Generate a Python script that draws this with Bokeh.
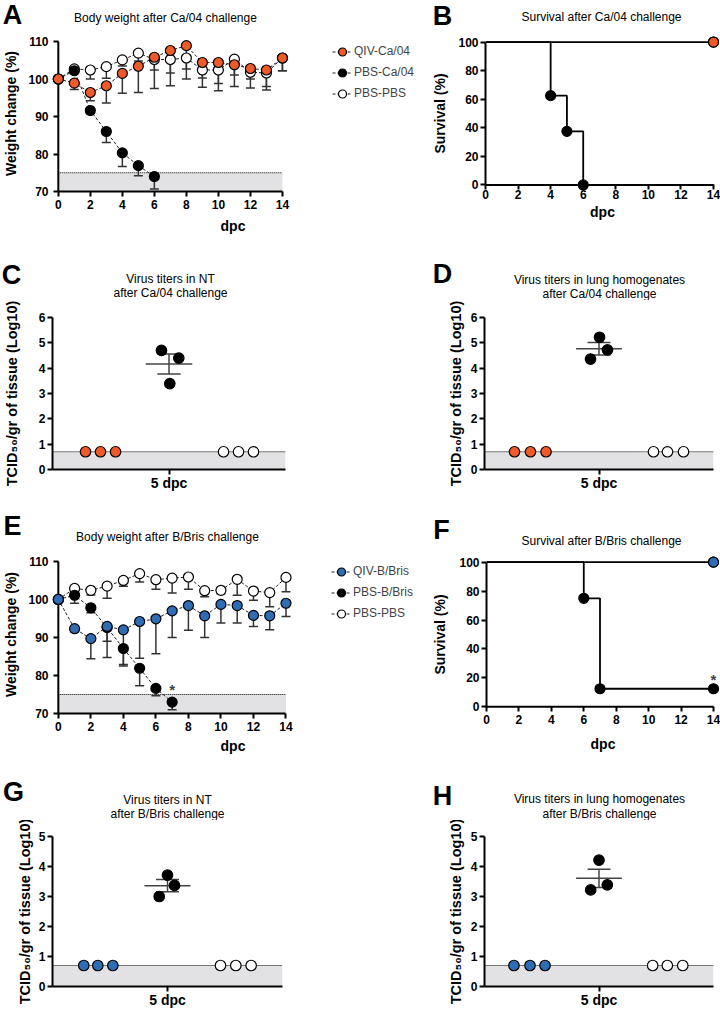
import math
import numpy as np
from bokeh.plotting import figure
from bokeh.models import Range1d, FixedTicker, Label, Legend, LegendItem
from bokeh.layouts import row, column
from bokeh.embed import file_html
from bokeh.resources import INLINE

FONT = "Liberation Sans"
ORANGE = "#EF5A28"
BLUE = "#2E6CB4"
WHITE = "white"
BLACK = "black"
SHADE = "#E2E2E5"
ERR = "#333333"

# ------------------------------------------------------------------ data
days = list(range(15))
day_ticks = list(range(0, 15, 2))
weight_ticks = [70, 80, 90, 100, 110]
weight_threshold = 75
surv_ticks = [0, 20, 40, 60, 80, 100]

# Body weight after Ca/04 challenge (%)
qiv_ca_weight = [100, 98.9, 96.4, 98.2, 101.5, 103.4, 105.8, 107.6, 108.9, 104.4, 104.4, 103.8, 102.8, 102.4, 105.6]
qiv_ca_weight_low = [100, 97.2, 94.2, 93.6, 96.2, 96.4, 97.5, 98.2, 100.0, 97.8, 96.9, 98.0, 97.6, 97.1, 102.2]
pbs_ca_days = [0, 1, 2, 3, 4, 5, 6]
pbs_ca_weight = [100, 102.2, 91.6, 86.0, 80.3, 76.9, 74.0]
pbs_ca_weight_low = [100, 101.6, 90.8, 83.1, 76.7, 74.2, 70.7]
pbs_pbs_a_weight = [100, 102.7, 102.4, 103.3, 105.1, 106.9, 105.2, 105.2, 105.6, 102.4, 102.4, 105.3, 101.8, 101.6, 105.6]
pbs_pbs_a_weight_low = [100, 101.8, 100.0, 100.2, 103.5, 104.8, 102.4, 101.6, 102.7, 100.3, 98.8, 101.1, 100.0, 98.0, 102.2]

# Body weight after B/Bris challenge (%)
qiv_b_weight = [100, 92.3, 89.7, 92.9, 92.0, 94.2, 94.9, 97.0, 98.4, 95.7, 98.7, 98.4, 95.8, 95.7, 99.0]
qiv_b_weight_low = [100, 91.5, 84.4, 84.7, 82.5, 84.5, 85.7, 90.0, 91.9, 90.0, 93.8, 93.8, 92.9, 92.0, 95.5]
pbs_b_days = [0, 1, 2, 3, 4, 5, 6, 7]
pbs_b_weight = [100, 101.1, 97.8, 92.6, 87.1, 81.9, 76.6, 73.0]
pbs_b_weight_low = [100, 99.0, 96.5, 89.0, 82.9, 77.3, 74.7, 71.0]
pbs_pbs_e_weight = [100, 102.9, 102.4, 103.5, 105.0, 106.8, 105.2, 105.6, 105.9, 102.3, 102.4, 105.3, 102.2, 101.8, 105.8]
pbs_pbs_e_weight_low = [100, 101.8, 101.2, 100.3, 103.5, 104.6, 102.7, 101.7, 102.7, 100.7, 101.5, 101.1, 99.8, 98.1, 102.0]
pbs_b_star = (7, 76.3)

# Survival (%)
qiv_surv_x = [0, 14]
qiv_surv_y = [100, 100]
pbs_ca_surv_x = [0, 4, 5, 6, 14]
pbs_ca_surv_y = [100, 62.5, 37.5, 0, 0]
pbs_ca_event_x = [4, 5, 6]
pbs_ca_event_y = [62.5, 37.5, 0]
pbs_b_surv_x = [0, 6, 7, 14]
pbs_b_surv_y = [100, 75, 12.5, 12.5]
pbs_b_event_x = [6, 7, 14]
pbs_b_event_y = [75, 12.5, 12.5]
surv_end_x = [14]
surv_end_y = [100]
pbs_b_surv_star = (14, 18.9)

# Virus titers, TCID50/gr of tissue (Log10), 5 dpc
titer_lod = 0.7
titer_center = 1.5
titer_cat = "5 dpc"
nt_ca_qiv_x, nt_ca_qiv = [0.425, 0.618, 0.812], [0.7, 0.7, 0.7]
nt_ca_pbs_x, nt_ca_pbs = [1.403, 1.626, 1.510], [4.70, 4.40, 3.39]
nt_ca_ctl_x, nt_ca_ctl = [2.202, 2.395, 2.588], [0.7, 0.7, 0.7]
lung_ca_qiv_x, lung_ca_qiv = [0.393, 0.602, 0.806], [0.7, 0.7, 0.7]
lung_ca_pbs_x, lung_ca_pbs = [1.507, 1.611, 1.389], [5.22, 4.72, 4.36]
lung_ca_ctl_x, lung_ca_ctl = [2.214, 2.397, 2.607], [0.7, 0.7, 0.7]
nt_b_qiv_x, nt_b_qiv = [0.408, 0.591, 0.787], [0.7, 0.7, 0.7]
nt_b_pbs_x, nt_b_pbs = [1.500, 1.591, 1.392], [3.71, 3.37, 3.00]
nt_b_ctl_x, nt_b_ctl = [2.191, 2.391, 2.591], [0.7, 0.7, 0.7]
lung_b_qiv_x, lung_b_qiv = [0.386, 0.596, 0.793], [0.7, 0.7, 0.7]
lung_b_pbs_x, lung_b_pbs = [1.500, 1.609, 1.391], [4.21, 3.39, 3.22]
lung_b_ctl_x, lung_b_ctl = [2.203, 2.395, 2.597], [0.7, 0.7, 0.7]

TCID_LABEL = "TCID\u2085\u2080/gr of tissue (Log10)"


# ------------------------------------------------------------------ helpers
class Panel:
    """A figure whose frame sits at given page-pixel positions."""

    def __init__(self, w, h, col_left, row_top, frame, xcal, ycal):
        L, R, T, B = frame
        (xp0, xv0), (xp1, xv1) = xcal
        (yp0, yv0), (yp1, yv1) = ycal
        self.kx = (xv1 - xv0) / (xp1 - xp0)
        self.ky = (yv1 - yv0) / (yp1 - yp0)
        self.xp0, self.xv0, self.yp0, self.yv0 = xp0, xv0, yp0, yv0
        p = figure(width=w, height=h,
                   x_range=Range1d(self.dx(L), self.dx(R)),
                   y_range=Range1d(self.dy(B), self.dy(T)),
                   output_backend="svg", toolbar_location=None,
                   min_border_left=L - col_left,
                   min_border_right=col_left + w - R,
                   min_border_top=T - row_top,
                   min_border_bottom=row_top + h - B)
        p.outline_line_color = None
        p.grid.visible = False
        p.background_fill_color = "white"
        p.border_fill_color = "white"
        self.p = p

    def dx(self, px):
        return self.xv0 + (px - self.xp0) * self.kx

    def dy(self, py):
        return self.yv0 + (py - self.yp0) * self.ky


def header(h, top, texts):
    p = figure(width=720, height=h, x_range=Range1d(0, 720), y_range=Range1d(h, 0),
               output_backend="svg", toolbar_location=None,
               x_axis_type=None, y_axis_type=None, min_border=0,
               min_border_left=0, min_border_right=0, min_border_top=0, min_border_bottom=0)
    p.outline_line_color = None
    p.grid.visible = False
    for (x, y, txt, size, style) in texts:
        p.add_layout(Label(x=x, y=y - top, text=txt, text_font=FONT, text_font_size=size,
                           text_font_style=style, text_align="center",
                           text_baseline="middle", text_color="black"))
    return p


def style_axis(ax, tick_out=5, standoff=2, size="12px", label=None, label_standoff=5,
               label_size="14px"):
    ax.axis_line_width = 2
    ax.axis_line_color = "black"
    ax.major_tick_line_width = 2
    ax.major_tick_line_color = "black"
    ax.major_tick_out = tick_out
    ax.major_tick_in = 0
    ax.minor_tick_line_color = None
    ax.minor_tick_out = 0
    ax.minor_tick_in = 0
    ax.major_label_standoff = standoff
    ax.major_label_text_font = FONT
    ax.major_label_text_font_style = "bold"
    ax.major_label_text_font_size = size
    ax.major_label_text_color = "black"
    if label:
        ax.axis_label = label
        ax.axis_label_standoff = label_standoff
        ax.axis_label_text_font = FONT
        ax.axis_label_text_font_style = "bold"
        ax.axis_label_text_font_size = label_size
        ax.axis_label_text_color = "black"


def gap_axis(ax, gap, tick_len=5):
    """Axis drawn at the frame edge, 'gap' px away from the data axis line."""
    ax.axis_line_color = None
    ax.major_tick_in = gap
    ax.major_tick_out = tick_len - gap


def weight_panel(pan, groups, order, legend_loc, xstand, xlab_stand):
    p = pan.p
    xa, ya = p.xaxis[0], p.yaxis[0]
    style_axis(xa, 5, xstand, label="dpc", label_standoff=xlab_stand)
    style_axis(ya, 5, 1, label="Weight change (%)", label_standoff=6)
    gap_axis(ya, 9)
    xa.ticker = FixedTicker(ticks=day_ticks)
    xa.bounds = (day_ticks[0], day_ticks[-1])
    ya.ticker = FixedTicker(ticks=weight_ticks)
    ya.bounds = (weight_ticks[0], weight_ticks[-1])
    bx = [day_ticks[0], day_ticks[-1]]
    p.varea(x=bx, y1=[weight_ticks[0]] * 2, y2=[weight_threshold] * 2, fill_color=SHADE)
    p.line(bx, [weight_threshold] * 2, line_color="black", line_width=1.2, line_dash="1 1")
    p.segment(x0=[day_ticks[0]], y0=[weight_ticks[0]], x1=[day_ticks[0]],
              y1=[weight_ticks[-1]], line_color="black", line_width=2)
    for name, x, y, low, fill in groups:
        p.segment(x0=x, y0=y, x1=x, y1=low, line_color=ERR, line_width=1.5)
        p.scatter(x, low, marker="dash", size=9, line_color=ERR, line_width=1.5)
    rends = {}
    for name, x, y, low, fill in groups:
        l = p.line(x, y, line_color="#222222", line_width=1, line_dash="3 2")
        s = p.scatter(x, y, size=10, fill_color=fill, line_color="black",
                      line_width=1.2, level="overlay")
        rends[name] = [l, s]
    legend = Legend(items=[LegendItem(label=n, renderers=rends[n]) for n in order],
                    location=legend_loc, orientation="vertical",
                    glyph_width=20, glyph_height=21, label_height=21,
                    label_standoff=2, spacing=0, padding=0, margin=0,
                    border_line_color=None, background_fill_alpha=0,
                    label_text_font=FONT, label_text_font_size="12px")
    p.add_layout(legend)


def survival_panel(pan, fill, pbs_x, pbs_y, ev_x, ev_y, xstand, xlab_stand, ylab_stand):
    p = pan.p
    xa, ya = p.xaxis[0], p.yaxis[0]
    style_axis(xa, 5, xstand, label="dpc", label_standoff=xlab_stand)
    gap_axis(xa, 7)
    style_axis(ya, 5, 2, label="Survival (%)", label_standoff=ylab_stand)
    xa.ticker = FixedTicker(ticks=day_ticks)
    xa.bounds = (day_ticks[0], day_ticks[-1])
    ya.ticker = FixedTicker(ticks=surv_ticks)
    ya.bounds = (surv_ticks[0], surv_ticks[-1])
    p.segment(x0=[day_ticks[0]], y0=[surv_ticks[0]], x1=[day_ticks[-1]],
              y1=[surv_ticks[0]], line_color="black", line_width=2)
    p.step(qiv_surv_x, qiv_surv_y, mode="after", line_color="black", line_width=1.8)
    p.step(pbs_x, pbs_y, mode="after", line_color="black", line_width=1.8)
    p.scatter(surv_end_x, surv_end_y, size=10, fill_color=WHITE, line_color="black",
              line_width=1.2, level="overlay")
    p.scatter(surv_end_x, surv_end_y, size=10, fill_color=fill, line_color="black",
              line_width=1.2, level="overlay")
    p.scatter(ev_x, ev_y, size=10, fill_color=BLACK, line_color="black",
              line_width=1.2, level="overlay")


def titer_panel(pan, ymax, groups, pbs_vals, ylab_stand):
    p = pan.p
    xa, ya = p.xaxis[0], p.yaxis[0]
    style_axis(xa, 5, 0, "14px")
    style_axis(ya, 5, 2, label=TCID_LABEL, label_standoff=ylab_stand, label_size="14.5px")
    xa.ticker = FixedTicker(ticks=[titer_center])
    xa.major_label_overrides = {titer_center: titer_cat}
    ya.ticker = FixedTicker(ticks=list(range(0, ymax + 1)))
    bx = [0, 2 * titer_center]
    p.varea(x=bx, y1=[0, 0], y2=[titer_lod] * 2, fill_color=SHADE)
    p.line(bx, [titer_lod] * 2, line_color="black", line_width=1.2, line_dash="1 1")
    vals = np.array(pbs_vals)
    m = vals.mean()
    sem = vals.std(ddof=1) / math.sqrt(len(vals))
    c = titer_center
    p.segment(x0=[c - 0.3, c, c - 0.15, c - 0.15], y0=[m, m - sem, m - sem, m + sem],
              x1=[c + 0.3, c, c + 0.15, c + 0.15], y1=[m, m + sem, m - sem, m + sem],
              line_color="#444444", line_width=1.5)
    for x, y, fill in groups:
        p.scatter(x, y, size=10.5, fill_color=fill, line_color="black", line_width=1.2)


def star(pan, pos):
    pan.p.add_layout(Label(x=pos[0], y=pos[1], text="*", text_font=FONT,
                           text_font_size="15px", text_font_style="bold",
                           text_align="center", text_baseline="middle"))


LW, RW = 416, 304
LC, RC = 0, 416

# ------------------------------------------------------------------ headers
H1 = header(30, 0, [
    (12, 14, "A", "27px", "bold"), (442, 15, "B", "27px", "bold"),
    (165, 17, "Body weight after Ca/04 challenge", "12px", "normal"),
    (601, 16, "Survival after Ca/04 challenge", "12px", "normal")])
H2 = header(50, 250, [
    (11, 274, "C", "27px", "bold"), (442, 273, "D", "27px", "bold"),
    (170, 278, "Virus titers in NT", "12px", "normal"),
    (170, 292, "after Ca/04 challenge", "12px", "normal"),
    (599, 279, "Virus titers in lung homogenates", "12px", "normal"),
    (599, 293, "after Ca/04 challenge", "12px", "normal")])
H3 = header(52, 500, [
    (12, 525, "E", "27px", "bold"), (441, 529, "F", "27px", "bold"),
    (167, 536, "Body weight after B/Bris challenge", "12px", "normal"),
    (601, 540, "Survival after B/Bris challenge", "12px", "normal")])
H4 = header(55, 765, [
    (13, 791, "G", "27px", "bold"), (442, 795, "H", "27px", "bold"),
    (167, 799, "Virus titers in NT", "12px", "normal"),
    (167, 813, "after B/Bris challenge", "12px", "normal"),
    (599, 798, "Virus titers in lung homogenates", "12px", "normal"),
    (599, 813, "after B/Bris challenge", "12px", "normal")])

# ------------------------------------------------------------------ row 1 (top 30, h 220)
A = Panel(LW, 220, LC, 30, (41, 416, 35, 191), ((50, 0), (279, 14)), ((41, 110), (191, 70)))
weight_panel(A, [
    ("PBS-PBS", days, pbs_pbs_a_weight, pbs_pbs_a_weight_low, WHITE),
    ("PBS-Ca/04", pbs_ca_days, pbs_ca_weight, pbs_ca_weight_low, BLACK),
    ("QIV-Ca/04", days, qiv_ca_weight, qiv_ca_weight_low, ORANGE),
], ["QIV-Ca/04", "PBS-Ca/04", "PBS-PBS"], (324 - 41, 191 - 103.5), 3, 6)

B = Panel(RW, 220, RC, 30, (485, 719, 31, 197), ((485, 0), (713, 14)), ((38, 100), (190, 0)))
survival_panel(B, ORANGE, pbs_ca_surv_x, pbs_ca_surv_y, pbs_ca_event_x, pbs_ca_event_y, -2, 2, 7)

# ------------------------------------------------------------------ row 2 (top 300, h 200)
C = Panel(LW, 200, LC, 300, (52, 285, 316, 469), ((52, 0), (285, 3)), ((469, 0), (316, 6)))
titer_panel(C, 6, [(nt_ca_qiv_x, nt_ca_qiv, ORANGE), (nt_ca_pbs_x, nt_ca_pbs, BLACK),
                   (nt_ca_ctl_x, nt_ca_ctl, WHITE)], nt_ca_pbs, 16)

D = Panel(RW, 200, RC, 300, (484, 713, 317, 469), ((484, 0), (713, 3)), ((469, 0), (317, 6)))
titer_panel(D, 6, [(lung_ca_qiv_x, lung_ca_qiv, ORANGE), (lung_ca_pbs_x, lung_ca_pbs, BLACK),
                   (lung_ca_ctl_x, lung_ca_ctl, WHITE)], lung_ca_pbs, 4)

# ------------------------------------------------------------------ row 3 (top 552, h 213)
E = Panel(LW, 213, LC, 552, (42, 416, 553, 713), ((51, 0), (283, 14)), ((559, 110), (713, 70)))
weight_panel(E, [
    ("PBS-PBS", days, pbs_pbs_e_weight, pbs_pbs_e_weight_low, WHITE),
    ("PBS-B/Bris", pbs_b_days, pbs_b_weight, pbs_b_weight_low, BLACK),
    ("QIV-B/Bris", days, qiv_b_weight, qiv_b_weight_low, BLUE),
], ["QIV-B/Bris", "PBS-B/Bris", "PBS-PBS"], (324 - 42, 713 - 623.5), 3, 4)
star(E, pbs_b_star)

F = Panel(RW, 213, RC, 552, (486, 719, 555, 721), ((486, 0), (713, 14)), ((562, 100), (714, 0)))
survival_panel(F, BLUE, pbs_b_surv_x, pbs_b_surv_y, pbs_b_event_x, pbs_b_event_y, 1, 9, 8)
star(F, pbs_b_surv_star)

# ------------------------------------------------------------------ row 4 (top 820, h 190)
G = Panel(LW, 190, LC, 820, (52, 282, 836, 989), ((52, 0), (282, 3)), ((989, 0), (836, 5)))
titer_panel(G, 5, [(nt_b_qiv_x, nt_b_qiv, BLUE), (nt_b_pbs_x, nt_b_pbs, BLACK),
                   (nt_b_ctl_x, nt_b_ctl, WHITE)], nt_b_pbs, 3)

H = Panel(RW, 190, RC, 820, (484, 713, 836, 989), ((484, 0), (713, 3)), ((989, 0), (836, 5)))
titer_panel(H, 5, [(lung_b_qiv_x, lung_b_qiv, BLUE), (lung_b_pbs_x, lung_b_pbs, BLACK),
                   (lung_b_ctl_x, lung_b_ctl, WHITE)], lung_b_pbs, 4)

layout = column(H1, row(A.p, B.p), H2, row(C.p, D.p), H3, row(E.p, F.p), H4, row(G.p, H.p))
open("out.html", "w").write(file_html(layout, INLINE))
